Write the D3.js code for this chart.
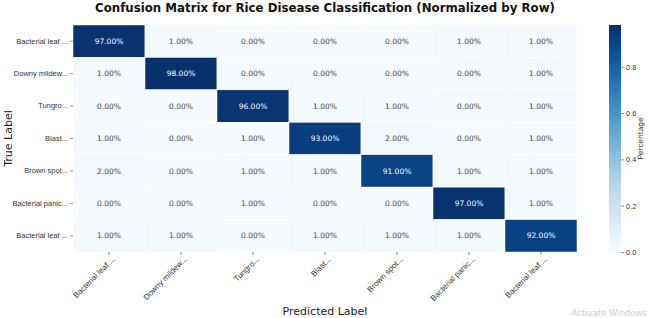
<!DOCTYPE html>
<html>
<head>
<meta charset="utf-8">
<script src="https://cdn.jsdelivr.net/npm/d3@7"></script>
<style>
  body { margin: 0; background: #fff; }
  svg { font-family: "DejaVu Sans", sans-serif; display: block; }
</style>
</head>
<body>
<div id="chart"></div>
<script>
// Data
////////////////////////////////////////////////////////////////////
const classLabels = [
  "Bacterial leaf ...",
  "Downy mildew...",
  "Tungro...",
  "Blast...",
  "Brown spot...",
  "Bacterial panic...",
  "Bacterial leaf ...",
];

// rows = true label, cols = predicted label (fraction of row)
const matrix = [
  [0.97, 0.01, 0.0, 0.0, 0.0, 0.01, 0.01],
  [0.01, 0.98, 0.0, 0.0, 0.0, 0.0, 0.01],
  [0.0, 0.0, 0.96, 0.01, 0.01, 0.0, 0.01],
  [0.01, 0.0, 0.01, 0.93, 0.02, 0.0, 0.01],
  [0.02, 0.0, 0.01, 0.01, 0.91, 0.01, 0.01],
  [0.0, 0.0, 0.01, 0.0, 0.0, 0.97, 0.01],
  [0.01, 0.01, 0.0, 0.01, 0.01, 0.01, 0.92],
];

const colorbarTicks = [0, 0.2, 0.4, 0.6, 0.8];

// Dimensions
////////////////////////////////////////////////////////////////////
const dimensions = {
  width: 649,
  height: 318,
  margin: { top: 25, left: 73, right: 72, bottom: 66 },
};
dimensions.ctrWidth = dimensions.width - dimensions.margin.left - dimensions.margin.right;
dimensions.ctrHeight = dimensions.height - dimensions.margin.top - dimensions.margin.bottom;

const svg = d3
  .select("#chart")
  .append("svg")
  .attr("width", dimensions.width)
  .attr("height", dimensions.height);

const ctr = svg
  .append("g")
  .attr("transform", `translate(${dimensions.margin.left}, ${dimensions.margin.top})`);

// Scales
////////////////////////////////////////////////////////////////////
const idx = d3.range(classLabels.length);
const xScale = d3.scaleBand().domain(idx).range([0, dimensions.ctrWidth]);
const yScale = d3.scaleBand().domain(idx).range([0, dimensions.ctrHeight]);

const vmax = d3.max(matrix.flat());
const color = d3.scaleSequential(d3.interpolateBlues).domain([0, vmax]);

// Cells
////////////////////////////////////////////////////////////////////
const cells = matrix.flatMap((row, r) => row.map((v, c) => ({ r, c, v })));

ctr
  .selectAll("rect.cell")
  .data(cells)
  .join("rect")
  .attr("class", "cell")
  .attr("x", (d) => xScale(d.c))
  .attr("y", (d) => yScale(d.r))
  .attr("width", xScale.bandwidth())
  .attr("height", yScale.bandwidth())
  .attr("fill", (d) => color(d.v))
  .attr("stroke", "#fff")
  .attr("stroke-width", 0.5);

ctr
  .selectAll("text.val")
  .data(cells)
  .join("text")
  .attr("class", "val")
  .attr("x", (d) => xScale(d.c) + xScale.bandwidth() / 2)
  .attr("y", (d) => yScale(d.r) + yScale.bandwidth() / 2)
  .attr("dy", "0.35em")
  .attr("text-anchor", "middle")
  .attr("font-size", 7.5)
  .attr("fill", (d) => (d3.hsl(color(d.v)).l < 0.5 ? "#fff" : "#444"))
  .text((d) => d3.format(".2f")(d.v * 100) + "%");

// Axes
////////////////////////////////////////////////////////////////////
const xAxisGroup = ctr
  .append("g")
  .attr("transform", `translate(0,${dimensions.ctrHeight})`)
  .call(d3.axisBottom(xScale).tickSize(3).tickPadding(3).tickFormat((i) => classLabels[i]));

xAxisGroup.select(".domain").remove();
xAxisGroup.selectAll(".tick line").attr("stroke", "#444").attr("stroke-width", 0.6);
xAxisGroup
  .selectAll(".tick text")
  .attr("font-size", 8)
  .attr("fill", "#333")
  .attr("text-anchor", "end")
  .attr("dx", "-0.1em")
  .attr("dy", "0.5em")
  .attr("transform", "rotate(-45)");

const yAxisGroup = ctr
  .append("g")
  .call(d3.axisLeft(yScale).tickSize(3).tickPadding(2).tickFormat((i) => classLabels[i]));

yAxisGroup.select(".domain").remove();
yAxisGroup.selectAll(".tick line").attr("stroke", "#444").attr("stroke-width", 0.6);
yAxisGroup.selectAll(".tick text").attr("font-size", 7.5).attr("fill", "#333");

// Axis titles
svg
  .append("text")
  .attr("x", dimensions.margin.left + dimensions.ctrWidth / 2)
  .attr("y", 315)
  .attr("text-anchor", "middle")
  .attr("font-size", 11)
  .attr("fill", "#222")
  .text("Predicted Label");

svg
  .append("text")
  .attr("transform", `translate(12, ${dimensions.margin.top + dimensions.ctrHeight / 2}) rotate(-90)`)
  .attr("text-anchor", "middle")
  .attr("font-size", 11)
  .attr("fill", "#222")
  .text("True Label");

// Title
svg
  .append("text")
  .attr("x", dimensions.margin.left + dimensions.ctrWidth / 2)
  .attr("y", 12)
  .attr("text-anchor", "middle")
  .attr("font-size", 11.8)
  .attr("font-weight", "bold")
  .attr("fill", "#111")
  .text("Confusion Matrix for Rice Disease Classification (Normalized by Row)");

// Colorbar
////////////////////////////////////////////////////////////////////
const cbX = 609;
const cbW = 12;
const cbScale = d3
  .scaleLinear()
  .domain([0, vmax])
  .range([dimensions.margin.top + dimensions.ctrHeight, dimensions.margin.top]);

const grad = svg
  .append("defs")
  .append("linearGradient")
  .attr("id", "cbGrad")
  .attr("x1", 0)
  .attr("y1", 1)
  .attr("x2", 0)
  .attr("y2", 0);

grad
  .selectAll("stop")
  .data(d3.range(0, 1.0001, 0.1))
  .join("stop")
  .attr("offset", (t) => t)
  .attr("stop-color", (t) => d3.interpolateBlues(t));

svg
  .append("rect")
  .attr("x", cbX)
  .attr("y", cbScale(vmax))
  .attr("width", cbW)
  .attr("height", cbScale(0) - cbScale(vmax))
  .attr("fill", "url(#cbGrad)");

const cbAxis = svg
  .append("g")
  .attr("transform", `translate(${cbX + cbW},0)`)
  .call(d3.axisRight(cbScale).tickValues(colorbarTicks).tickSize(3).tickPadding(2).tickFormat(d3.format(".1f")));

cbAxis.select(".domain").remove();
cbAxis.selectAll(".tick line").attr("stroke", "#444").attr("stroke-width", 0.6);
cbAxis.selectAll(".tick text").attr("font-size", 7.5).attr("fill", "#333");

svg
  .append("text")
  .attr("transform", `translate(643, ${dimensions.margin.top + dimensions.ctrHeight / 2}) rotate(-90)`)
  .attr("text-anchor", "middle")
  .attr("font-size", 7.5)
  .attr("fill", "#333")
  .text("Percentage");

// Faint OS watermark seen in the screenshot
svg
  .append("text")
  .attr("x", 647)
  .attr("y", 316)
  .attr("text-anchor", "end")
  .attr("font-size", 8.5)
  .attr("fill", "#ccc")
  .text("Activate Windows");
</script>
</body>
</html>
